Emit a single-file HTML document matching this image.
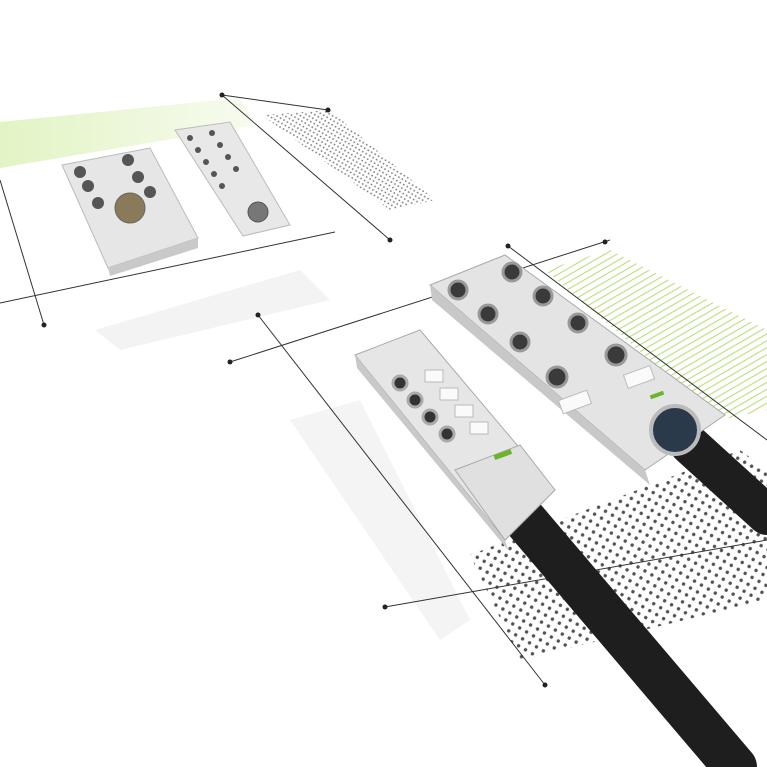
<!DOCTYPE html>
<html><head><meta charset="utf-8"><style>html,body{margin:0;padding:0;background:#fff}svg{display:block}</style></head>
<body>
<svg width="767" height="767" viewBox="0 0 767 767" xmlns="http://www.w3.org/2000/svg">
<defs>
<pattern id="dots" width="8" height="8" patternUnits="userSpaceOnUse" patternTransform="rotate(30)"><circle cx="4" cy="4" r="1.7" fill="#333"/></pattern>
<pattern id="fdots" width="4" height="4" patternUnits="userSpaceOnUse" patternTransform="rotate(30)"><circle cx="2" cy="2" r="0.9" fill="#555"/></pattern>
<pattern id="gh" width="6" height="6" patternUnits="userSpaceOnUse" patternTransform="rotate(60)"><line x1="0" y1="0" x2="0" y2="6" stroke="#b0dc6a" stroke-width="2.2"/></pattern>
<linearGradient id="gfade" x1="0" x2="1"><stop offset="0" stop-color="#e2f4c4"/><stop offset="1" stop-color="#f7fbef"/></linearGradient>
</defs>
<rect width="767" height="767" fill="#fff"/>
<polygon points="0,122 240,98 255,125 0,168" fill="url(#gfade)"/>
<polygon points="262,115 330,110 435,200 390,210" fill="url(#fdots)" opacity="0.8"/>
<polygon points="545,270 610,250 767,330 767,410 720,420" fill="url(#gh)" opacity="0.9"/>
<polygon points="470,555 740,450 767,470 767,600 520,660" fill="url(#dots)" opacity="0.85"/>
<polygon points="95,330 300,270 330,300 120,350" fill="#f3f3f3"/>
<polygon points="290,420 360,400 470,620 440,640" fill="#f4f4f4"/>
<g stroke="#333" stroke-width="1" fill="none">
<line x1="0" y1="180" x2="44" y2="325"/>
<line x1="0" y1="303" x2="335" y2="232"/>
<line x1="222" y1="95" x2="390" y2="240"/>
<line x1="222" y1="95" x2="328" y2="110"/>
<line x1="230" y1="362" x2="610" y2="240"/>
<line x1="258" y1="315" x2="545" y2="685"/>
<line x1="385" y1="607" x2="767" y2="540"/>
<line x1="508" y1="246" x2="767" y2="440"/>
</g>
<g fill="#222"><circle cx="44" cy="325" r="2.5"/><circle cx="390" cy="240" r="2.5"/><circle cx="328" cy="110" r="2.5"/><circle cx="222" cy="95" r="2.5"/><circle cx="230" cy="362" r="2.5"/><circle cx="258" cy="315" r="2.5"/><circle cx="545" cy="685" r="2.5"/><circle cx="385" cy="607" r="2.5"/><circle cx="605" cy="242" r="2.5"/><circle cx="508" cy="246" r="2.5"/></g>
<polygon points="62,165 150,148 198,238 108,268" fill="#e6e6e6" stroke="#bbb"/>
<polygon points="108,268 198,238 198,248 110,276" fill="#c9c9c9"/>
<g fill="#555"><circle cx="80" cy="172" r="6"/><circle cx="128" cy="160" r="6"/><circle cx="88" cy="186" r="6"/><circle cx="138" cy="177" r="6"/><circle cx="98" cy="203" r="6"/><circle cx="150" cy="192" r="6"/></g>
<circle cx="130" cy="208" r="15" fill="#8a7a5a" stroke="#666"/>
<polygon points="175,130 230,122 290,225 243,236" fill="#e8e8e8" stroke="#bbb"/>
<g fill="#555"><circle cx="190" cy="138" r="3"/><circle cx="198" cy="150" r="3"/><circle cx="206" cy="162" r="3"/><circle cx="214" cy="174" r="3"/><circle cx="222" cy="186" r="3"/><circle cx="212" cy="133" r="3"/><circle cx="220" cy="145" r="3"/><circle cx="228" cy="157" r="3"/><circle cx="236" cy="169" r="3"/></g>
<circle cx="258" cy="212" r="10" fill="#777" stroke="#555"/>
<line x1="690" y1="445" x2="767" y2="515" stroke="#1e1e1e" stroke-width="40" stroke-linecap="round"/>
<line x1="525" y1="520" x2="735" y2="767" stroke="#1e1e1e" stroke-width="44" stroke-linecap="round"/>
<polygon points="430,285 505,255 725,415 645,470" fill="#e4e4e4" stroke="#aaa"/>
<polygon points="430,285 645,470 650,485 432,300" fill="#c8c8c8"/>
<g fill="#3a3a3a" stroke="#999" stroke-width="3">
<circle cx="458" cy="290" r="9"/><circle cx="512" cy="272" r="9"/>
<circle cx="488" cy="314" r="9"/><circle cx="543" cy="296" r="9"/>
<circle cx="520" cy="342" r="9"/><circle cx="578" cy="323" r="9"/>
<circle cx="557" cy="377" r="10"/><circle cx="616" cy="355" r="10"/>
</g>
<g fill="#fafafa" stroke="#bbb"><rect x="560" y="395" width="30" height="14" transform="rotate(-20 575 402)"/><rect x="625" y="370" width="28" height="14" transform="rotate(-20 639 377)"/></g>
<circle cx="675" cy="430" r="24" fill="#2a3a4a" stroke="#bbb" stroke-width="4"/>
<polygon points="355,355 420,330 555,490 505,540" fill="#e6e6e6" stroke="#aaa"/>
<polygon points="355,355 505,540 508,550 357,368" fill="#c9c9c9"/>
<g fill="#333" stroke="#aaa" stroke-width="3"><circle cx="400" cy="383" r="7"/><circle cx="415" cy="400" r="7"/><circle cx="430" cy="417" r="7"/><circle cx="447" cy="434" r="7"/></g>
<g fill="#fafafa" stroke="#bbb"><rect x="425" y="370" width="18" height="12"/><rect x="440" y="388" width="18" height="12"/><rect x="455" y="405" width="18" height="12"/><rect x="470" y="422" width="18" height="12"/></g>
<polygon points="455,470 520,445 555,490 505,540" fill="#e0e0e0" stroke="#aaa"/>
<rect x="494" y="452" width="18" height="5" fill="#6bb52a" transform="rotate(-20 503 455)"/>
<rect x="650" y="393" width="14" height="4" fill="#6bb52a" transform="rotate(-20 657 395)"/>
</svg>
</body></html>
